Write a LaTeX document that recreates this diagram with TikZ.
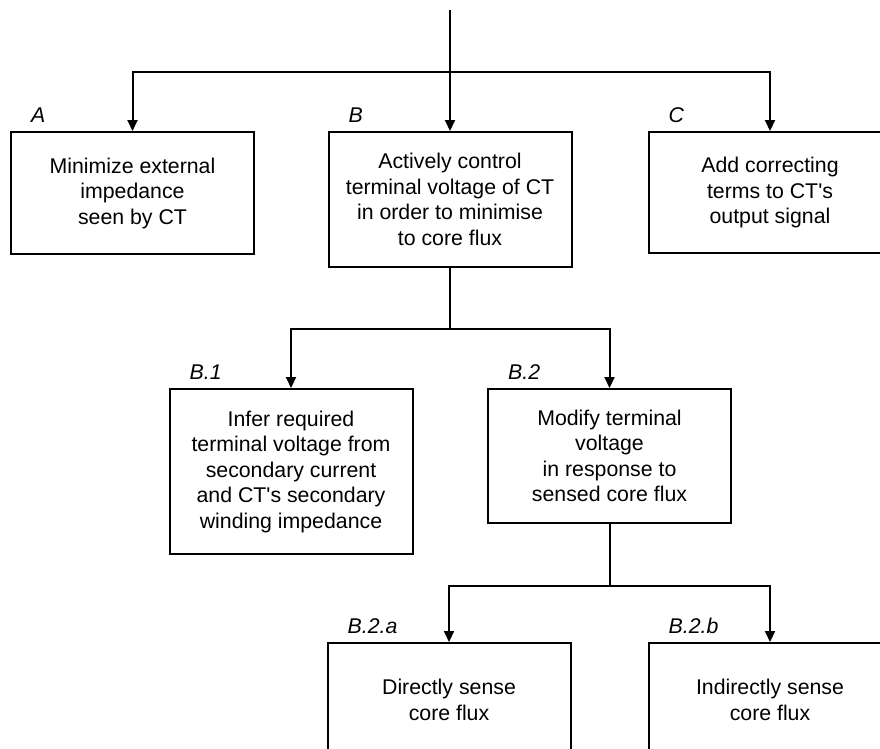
\documentclass[tikz,border=0pt]{standalone}
\usepackage{fontspec}
\setmainfont{Liberation Sans}
\usetikzlibrary{arrows.meta}
\newcommand{\txtsize}{\fontsize{21.3}{25.5}\selectfont}
\tikzset{
  blk/.style={draw, line width=2pt, fill=white, align=center,
    minimum width=243pt, minimum height=#1, inner sep=2pt},
  blk/.default=122pt,
  arr/.style={line width=2pt, -{Triangle[length=11pt, width=10pt]}},
  tag/.style={font=\txtsize\itshape, anchor=base west, inner sep=0pt},
}

\begin{document}
\begin{tikzpicture}[x=1pt, y=-1pt, font=\txtsize]
\useasboundingbox (0,0) rectangle (880,748);
\clip (0,0) rectangle (880,748);

% ── Level 1 ─────────────────────────────────────────────────
\node[blk] (a) at (132.5,193) {Minimize external\\impedance\\seen by CT};
\node[blk=135pt] (b) at (450,199.5) {Actively control\\terminal voltage of CT\\
  in order to minimise\\to core flux};
\node[blk=121pt] (c) at (770,192.5) {Add correcting\\terms to CT\textquotesingle s\\output signal};

% ── Level 2 ─────────────────────────────────────────────────
\node[blk=165pt] (b1) at (291,471.5) {Infer required\\terminal voltage from\\
  secondary current\\and CT\textquotesingle s secondary\\winding impedance};
\node[blk=134pt] (b2) at (609.5,456) {Modify terminal\\voltage\\
  in response to\\sensed core flux};

% ── Level 3 ─────────────────────────────────────────────────
\node[blk=114pt] (b2a) at (449,700) {Directly sense\\core flux};
\node[blk=114pt] (b2b) at (770,700) {Indirectly sense\\core flux};

% ── Tags ────────────────────────────────────────────────────
\foreach \n/\t in {a/A, b/B, c/C, b1/B.1, b2/B.2, b2a/B.2.a, b2b/B.2.b} {
  \node[tag] (t\n) at ([xshift=21pt, yshift=9pt]\n.north west) {\t};
}

% ── Connections ─────────────────────────────────────────────
\coordinate (in) at (450,10);
\coordinate (j0) at (450,72);
\coordinate (j1) at (450,329);
\coordinate (j2) at (609.5,586);

\draw[arr] (in) -- (b.north);
\draw[arr] (j0) -| (a.north);
\draw[arr] (j0) -| (c.north);
\draw[arr] (b.south) -- (j1) -| (b1.north);
\draw[arr] (j1) -| (b2.north);
\draw[arr] (b2.south) -- (j2) -| (b2a.north);
\draw[arr] (j2) -| (b2b.north);

\end{tikzpicture}
\end{document}
